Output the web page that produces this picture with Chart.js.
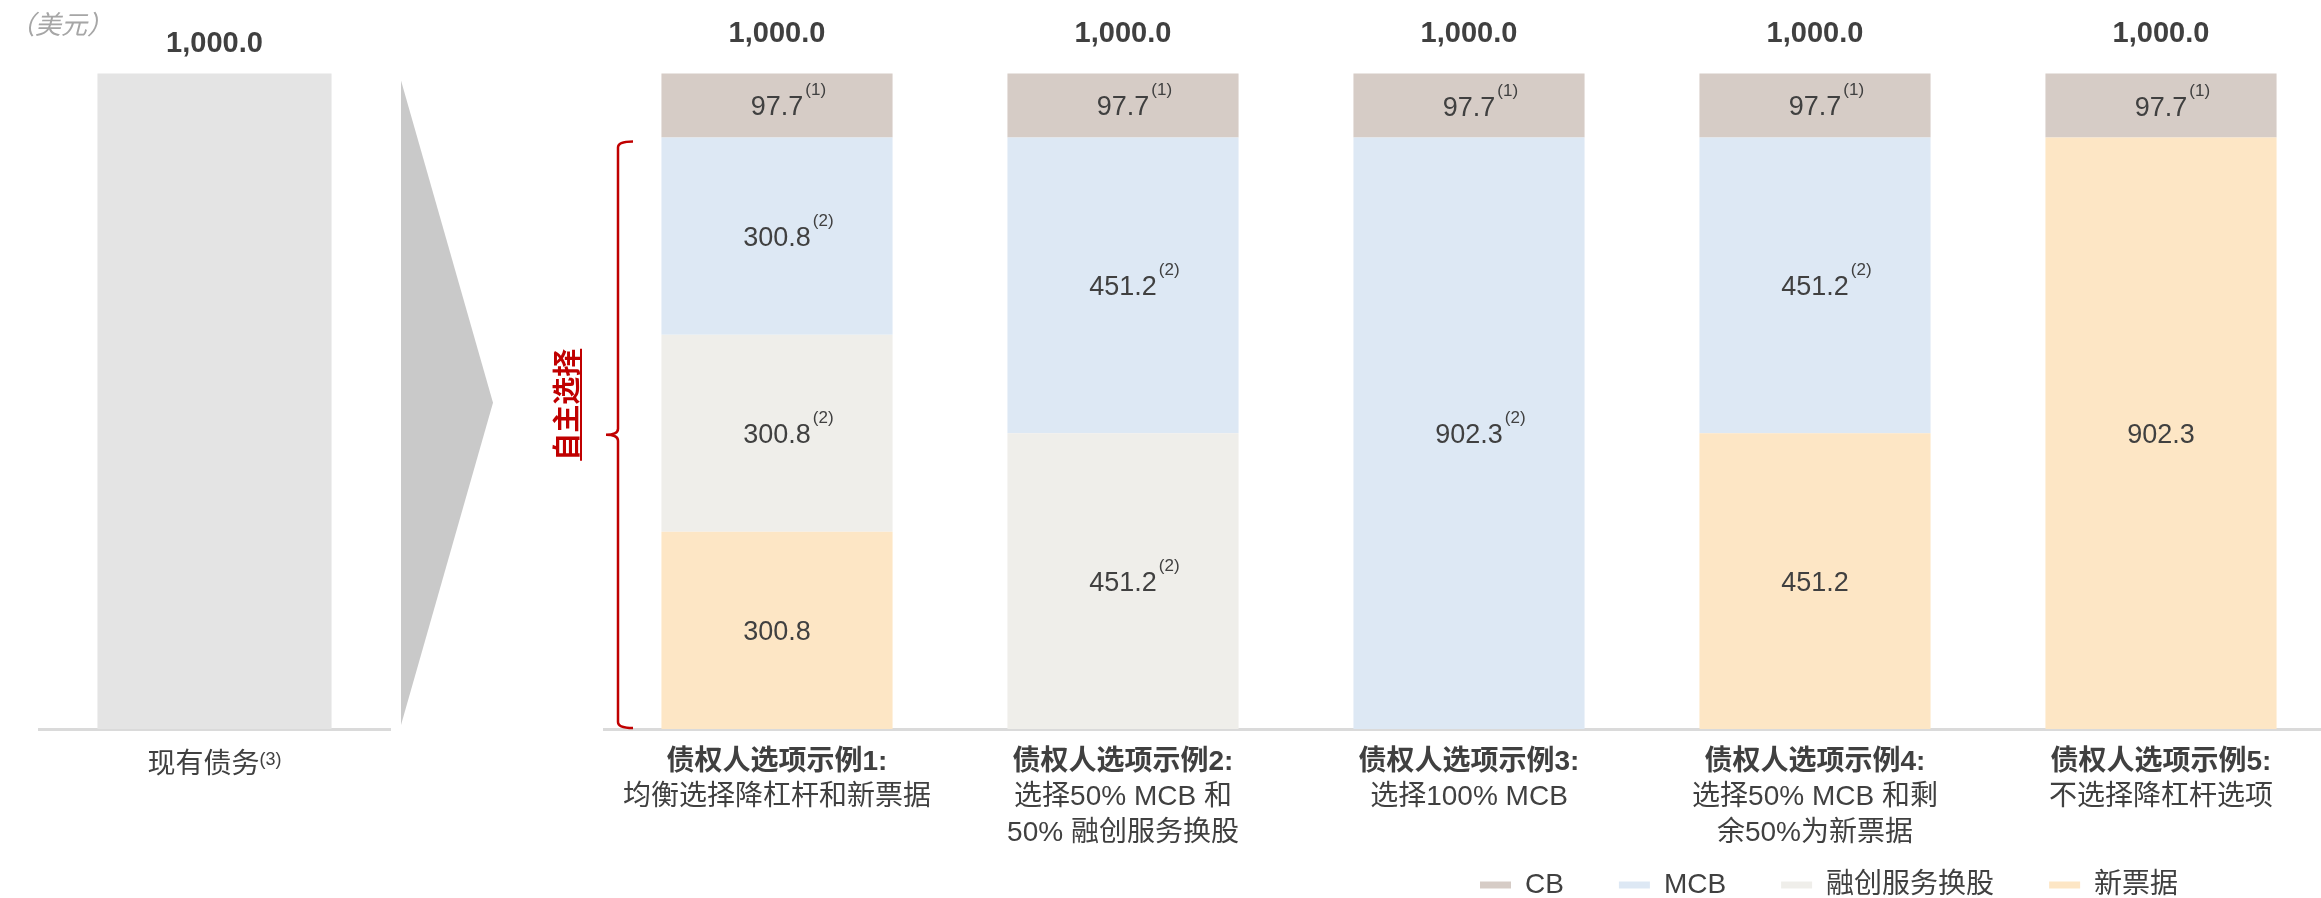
<!DOCTYPE html>
<html>
<head>
<meta charset="utf-8">
<script src="https://cdn.jsdelivr.net/npm/chart.js@4.4.1/dist/chart.umd.min.js"></script>
<style>
  html, body { margin: 0; padding: 0; background: #fff; overflow: hidden; }
  body { width: 2321px; height: 898px; position: relative; }
  canvas { position: absolute; top: 0; }
  #leftChart { left: 0; }
  #rightChart { left: 520px; }
</style>
</head>
<body>
<canvas id="leftChart" width="520" height="898"></canvas>
<canvas id="rightChart" width="1814" height="898"></canvas>
<script>
// existing debt (left panel)
const existingLabels = ['现有债务'];
const existingNotes = ['(3)'];
const existingValues = [1000.0];

// creditor option examples (right panel)
const optionTitles = ['债权人选项示例1:', '债权人选项示例2:', '债权人选项示例3:', '债权人选项示例4:', '债权人选项示例5:'];
const optionLines = [
    ['均衡选择降杠杆和新票据'],
    ['选择50% MCB 和', '50% 融创服务换股'],
    ['选择100% MCB'],
    ['选择50% MCB 和剩', '余50%为新票据'],
    ['不选择降杠杆选项']
];
const noteValues = [300.8, 0, 0, 451.2, 902.3];
const swapValues = [300.8, 451.2, 0, 0, 0];
const mcbValues = [300.8, 451.2, 902.3, 451.2, 0];
const cbValues = [97.7, 97.7, 97.7, 97.7, 97.7];
const totals = [1000.0, 1000.0, 1000.0, 1000.0, 1000.0];

// footnote marks shown next to the segment values
const noteNotes = ['', '', '', '', ''];
const swapNotes = ['(2)', '(2)', '', '', ''];
const mcbNotes = ['(2)', '(2)', '(2)', '(2)', ''];
const cbNotes = ['(1)', '(1)', '(1)', '(1)', '(1)'];

const unitText = '（美元）';
const bracketText = '自主选择';

const fontFam = '"Liberation Sans", "Noto Sans CJK SC", sans-serif';
const textColor = '#404040';

function fmtTotal(v) {
    return v.toLocaleString('en-US', { minimumFractionDigits: 1, maximumFractionDigits: 1 });
}

function baseOptions(padding) {
    return {
        responsive: false,
        animation: false,
        devicePixelRatio: 1,
        events: [],
        layout: { padding: padding },
        plugins: {
            legend: { display: false },
            tooltip: { enabled: false }
        },
        scales: {
            x: {
                stacked: true,
                grid: { display: false, drawTicks: false },
                ticks: { display: false },
                border: { display: true, color: '#DADADA', width: 3 }
            },
            y: {
                stacked: true,
                display: false,
                min: 0,
                max: 1100
            }
        }
    };
}

// ---------- left chart ----------
const leftDecor = {
    id: 'leftDecor',
    afterDraw(chart) {
        const ctx = chart.ctx;
        const area = chart.chartArea;
        const xs = chart.scales.x;
        const ys = chart.scales.y;
        ctx.save();

        // unit
        ctx.fillStyle = '#A6A6A6';
        ctx.font = 'italic 26px ' + fontFam;
        ctx.textAlign = 'left';
        ctx.textBaseline = 'middle';
        ctx.fillText(unitText, 9, 27);

        existingValues.forEach((v, i) => {
            const x = xs.getPixelForValue(i);
            ctx.fillStyle = textColor;
            ctx.font = 'bold 29px ' + fontFam;
            ctx.textAlign = 'center';
            ctx.fillText(fmtTotal(v), x, ys.getPixelForValue(v) - 30);

            // category label with footnote
            ctx.font = '28px ' + fontFam;
            const w = ctx.measureText(existingLabels[i]).width;
            ctx.font = '18px ' + fontFam;
            const nw = ctx.measureText(existingNotes[i]).width;
            const left = x - (w + nw) / 2;
            ctx.textAlign = 'left';
            ctx.font = '28px ' + fontFam;
            ctx.fillText(existingLabels[i], left, area.bottom + 36);
            ctx.font = '18px ' + fontFam;
            ctx.fillText(existingNotes[i], left + w, area.bottom + 31);
        });

        // grey arrow
        const top = ys.getPixelForValue(existingValues[0]) + 7;
        const bottom = area.bottom - 4;
        ctx.fillStyle = '#C9C9C9';
        ctx.beginPath();
        ctx.moveTo(area.right + 11, top);
        ctx.lineTo(area.right + 103, (top + bottom) / 2);
        ctx.lineTo(area.right + 11, bottom);
        ctx.closePath();
        ctx.fill();
        ctx.restore();
    }
};

new Chart(document.getElementById('leftChart').getContext('2d'), {
    type: 'bar',
    data: {
        labels: existingLabels,
        datasets: [{
            label: '现有债务',
            data: existingValues,
            backgroundColor: '#E4E4E4',
            borderWidth: 0,
            barPercentage: 1,
            categoryPercentage: 0.667
        }]
    },
    options: baseOptions({ left: 39, right: 130, top: 8, bottom: 169 }),
    plugins: [leftDecor]
});

// ---------- right chart ----------
const segmentLabels = {
    id: 'segmentLabels',
    afterDatasetsDraw(chart) {
        const ctx = chart.ctx;
        ctx.save();
        ctx.fillStyle = textColor;
        ctx.textBaseline = 'alphabetic';
        chart.data.datasets.forEach((ds, di) => {
            const meta = chart.getDatasetMeta(di);
            meta.data.forEach((bar, i) => {
                const v = ds.data[i];
                if (!v) return;
                const c = bar.getCenterPoint();
                const txt = v.toFixed(1);
                const base = c.y + 10;
                ctx.font = '27px ' + fontFam;
                ctx.textAlign = 'center';
                ctx.fillText(txt, c.x, base);
                const note = ds.notes[i];
                if (note) {
                    const w = ctx.measureText(txt).width;
                    ctx.font = '17px ' + fontFam;
                    ctx.textAlign = 'left';
                    ctx.fillText(note, c.x + w / 2 + 2, base - 20);
                }
            });
        });
        ctx.restore();
    }
};

const rightDecor = {
    id: 'rightDecor',
    afterLayout(chart) {
        // move the legend to the lower right, under options 3-5
        const lg = chart.legend;
        const pad = lg.options.labels.padding;
        lg.left = chart.scales.x.getPixelForValue(2) + 11 - pad;
        lg.top = chart.chartArea.bottom + 142 - pad;
        lg.bottom = lg.top + lg.height;
        lg.right = chart.width;
    },
    afterDraw(chart) {
        const ctx = chart.ctx;
        const area = chart.chartArea;
        const xs = chart.scales.x;
        const ys = chart.scales.y;
        ctx.save();

        // totals above bars
        ctx.fillStyle = textColor;
        ctx.textAlign = 'center';
        ctx.textBaseline = 'middle';
        totals.forEach((t, i) => {
            ctx.font = 'bold 29px ' + fontFam;
            ctx.fillText(fmtTotal(t), xs.getPixelForValue(i), ys.getPixelForValue(t) - 40);
        });

        // category labels
        optionTitles.forEach((t, i) => {
            const x = xs.getPixelForValue(i);
            ctx.font = 'bold 28px ' + fontFam;
            ctx.fillText(t, x, area.bottom + 33);
            ctx.font = '28px ' + fontFam;
            optionLines[i].forEach((line, j) => {
                ctx.fillText(line, x, area.bottom + 68 + j * 36);
            });
        });

        // red bracket
        const bx = area.left + 14;
        const top = ys.getPixelForValue(totals[0] - cbValues[0]) + 4;
        const bottom = area.bottom - 1;
        const mid = (top + bottom) / 2;
        ctx.strokeStyle = '#C00000';
        ctx.lineWidth = 2.5;
        ctx.beginPath();
        ctx.moveTo(bx + 15, top);
        ctx.quadraticCurveTo(bx, top, bx, top + 6);
        ctx.lineTo(bx, mid - 6);
        ctx.quadraticCurveTo(bx, mid, bx - 12, mid);
        ctx.quadraticCurveTo(bx, mid, bx, mid + 6);
        ctx.lineTo(bx, bottom - 6);
        ctx.quadraticCurveTo(bx, bottom, bx + 15, bottom);
        ctx.stroke();

        // rotated caption
        ctx.translate(bx - 52, mid - 30);
        ctx.rotate(-Math.PI / 2);
        ctx.fillStyle = '#C00000';
        ctx.font = 'bold 28px "Noto Sans CJK SC", sans-serif';
        ctx.textAlign = 'center';
        ctx.textBaseline = 'middle';
        ctx.fillText(bracketText, 0, 0);
        const tw = ctx.measureText(bracketText).width;
        ctx.lineWidth = 2;
        ctx.beginPath();
        ctx.moveTo(-tw / 2, 15);
        ctx.lineTo(tw / 2, 15);
        ctx.stroke();
        ctx.restore();
    }
};

const rightOptions = baseOptions({ left: 84, right: 0, top: 8, bottom: 76 });
rightOptions.plugins.legend = {
    display: true,
    position: 'bottom',
    align: 'start',
    reverse: true,
    labels: {
        boxWidth: 31,
        boxHeight: 7,
        padding: 55,
        color: textColor,
        font: { family: fontFam, size: 28 }
    }
};

new Chart(document.getElementById('rightChart').getContext('2d'), {
    type: 'bar',
    data: {
        labels: optionTitles,
        datasets: [
            { label: '新票据', data: noteValues, notes: noteNotes, backgroundColor: '#FDE6C5' },
            { label: '融创服务换股', data: swapValues, notes: swapNotes, backgroundColor: '#EFEEEA' },
            { label: 'MCB', data: mcbValues, notes: mcbNotes, backgroundColor: '#DDE8F4' },
            { label: 'CB', data: cbValues, notes: cbNotes, backgroundColor: '#D6CCC6' }
        ].map(ds => Object.assign(ds, { borderWidth: 0, barPercentage: 1, categoryPercentage: 0.668 }))
    },
    options: rightOptions,
    plugins: [segmentLabels, rightDecor]
});
</script>
</body>
</html>
